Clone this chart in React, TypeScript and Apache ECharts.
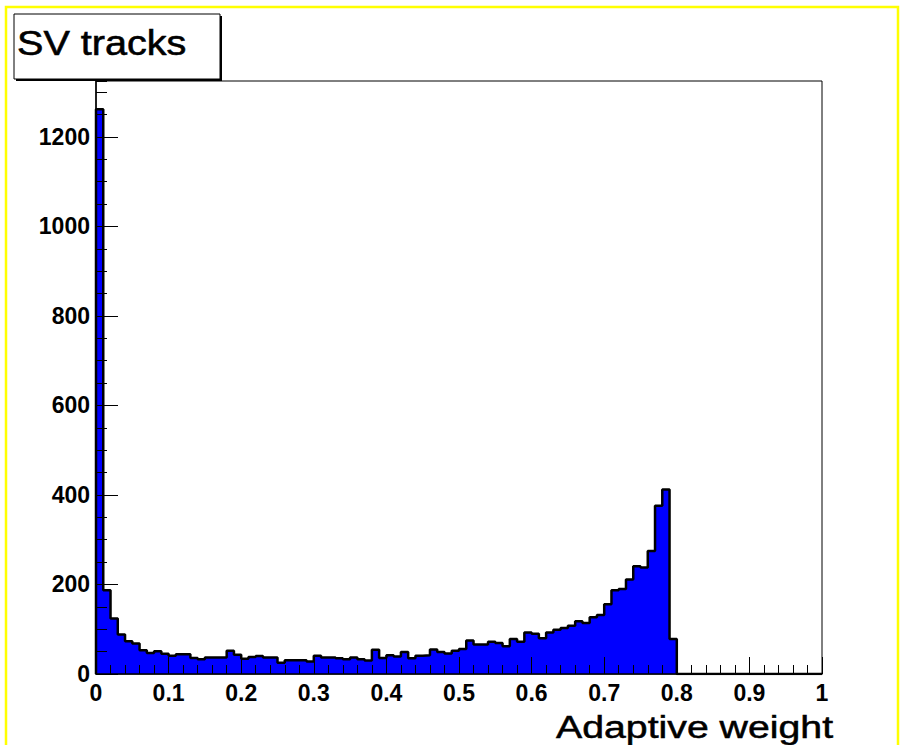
import { useEffect, useRef } from "react";
import * as echarts from "echarts";

// Histogram of adaptive weights for secondary-vertex tracks: 100 bins on [0, 1].
const xRange = [0, 1];
const binCounts = [
  1262, 187, 124, 88, 73, 68, 53, 47, 51, 45,
  41, 44, 44, 36, 33, 37, 37, 37, 52, 43,
  34, 38, 40, 37, 37, 25, 31, 31, 31, 28,
  41, 37, 37, 35, 33, 37, 33, 30, 54, 36,
  42, 39, 49, 35, 41, 42, 55, 49, 46, 52,
  56, 75, 66, 66, 72, 69, 62, 78, 72, 93,
  90, 80, 93, 99, 103, 108, 118, 114, 127, 132,
  156, 187, 190, 211, 241, 238, 275, 376, 412, 78,
  0, 0, 0, 0, 0, 0, 0, 0, 0, 0,
  0, 0, 0, 0, 0, 0, 0, 0, 0, 0,
];
const yMax = 1325;
const xMajorStep = 0.1;
const xMinorSplit = 5;
const yMajorStep = 200;
const yMinorStep = 50;

const histTitle = "SV tracks";
const xTitle = "Adaptive weight";

const FONT = "'Liberation Sans', Arial, Helvetica, sans-serif";

export default function App() {
  const ref = useRef<HTMLDivElement>(null);

  useEffect(() => {
    if (!ref.current) return;
    const chart = echarts.init(ref.current, undefined, { renderer: "svg" });

    const binWidth = (xRange[1] - xRange[0]) / binCounts.length;
    // Step outline: each point sits on a bin's lower edge, closed back to zero at both ends.
    const outline: number[][] = [[xRange[0], 0]];
    binCounts.forEach((c, i) => outline.push([xRange[0] + i * binWidth, c]));
    outline.push([xRange[1], 0]);

    const tickLine = { color: "#000", width: 1 };

    chart.setOption({
      animation: false,
      backgroundColor: "#fff",
      grid: {
        left: 96,
        right: 79,
        top: 81,
        bottom: 71,
        show: true,
        borderColor: "#000",
        borderWidth: 1,
        backgroundColor: "transparent",
      },
      xAxis: {
        type: "value",
        min: xRange[0],
        max: xRange[1],
        interval: xMajorStep,
        z: 10,
        axisLine: { show: true, onZero: false, lineStyle: { color: "#000", width: 1.5 } },
        axisTick: { show: true, inside: true, length: 17, lineStyle: tickLine },
        minorTick: { show: true, splitNumber: xMinorSplit, length: 9, lineStyle: tickLine },
        axisLabel: {
          color: "#000",
          fontSize: 23,
          fontWeight: "bold",
          fontFamily: FONT,
          margin: 7,
          formatter: (v: number) => String(Math.round(v * 10) / 10),
        },
        splitLine: { show: false },
      },
      yAxis: [
        {
          type: "value",
          min: 0,
          max: yMax,
          interval: yMajorStep,
          position: "left",
          z: 10,
          axisLine: { show: true, onZero: false, lineStyle: { color: "#000", width: 1.5 } },
          axisTick: { show: true, inside: true, length: 22, lineStyle: tickLine },
          axisLabel: {
            color: "#000",
            fontSize: 23,
            fontWeight: "bold",
            fontFamily: FONT,
            margin: 6,
            showMaxLabel: false,
            formatter: (v: number) => String(v),
          },
          splitLine: { show: false },
        },
        {
          type: "value",
          min: 0,
          max: yMax,
          interval: yMinorStep,
          position: "left",
          offset: 0,
          z: 10,
          axisLine: { show: false },
          axisTick: { show: true, inside: true, length: 11, lineStyle: tickLine },
          axisLabel: { show: false },
          splitLine: { show: false },
        },
      ],
      series: [
        {
          type: "line",
          yAxisIndex: 0,
          data: outline,
          step: "end",
          symbol: "none",
          z: 2,
          lineStyle: { color: "#000", width: 2.5 },
          areaStyle: { color: "#0000ff", opacity: 1 },
        },
      ],
      graphic: [
        {
          type: "rect",
          silent: true,
          z: 100,
          shape: { x: 6, y: 7, width: 892, height: 780 },
          style: { fill: "none", stroke: "#ffff00", lineWidth: 2.5 },
        },
        {
          type: "rect",
          silent: true,
          z: 100,
          shape: { x: 16, y: 16, width: 206, height: 65 },
          style: { fill: "#000" },
        },
        {
          type: "rect",
          silent: true,
          z: 101,
          shape: { x: 14, y: 14, width: 206, height: 65 },
          style: { fill: "#fff", stroke: "#000", lineWidth: 1 },
        },
        {
          type: "text",
          silent: true,
          z: 102,
          x: 17,
          y: 42.5,
          scaleX: 1.1,
          style: {
            text: histTitle,
            fill: "#000",
            font: `36px ${FONT}`,
            align: "left",
            verticalAlign: "middle",
            stroke: "#000",
            lineWidth: 0.6,
          },
        },
        {
          type: "text",
          silent: true,
          z: 102,
          x: 556,
          y: 727,
          scaleX: 1.266,
          style: {
            text: xTitle,
            fill: "#000",
            font: `31px ${FONT}`,
            align: "left",
            verticalAlign: "middle",
            stroke: "#000",
            lineWidth: 0.5,
          },
        },
      ],
    });

    return () => chart.dispose();
  }, []);

  return (
    <div
      ref={ref}
      style={{ position: "absolute", left: 0, top: 0, width: 901, height: 745 }}
    />
  );
}
